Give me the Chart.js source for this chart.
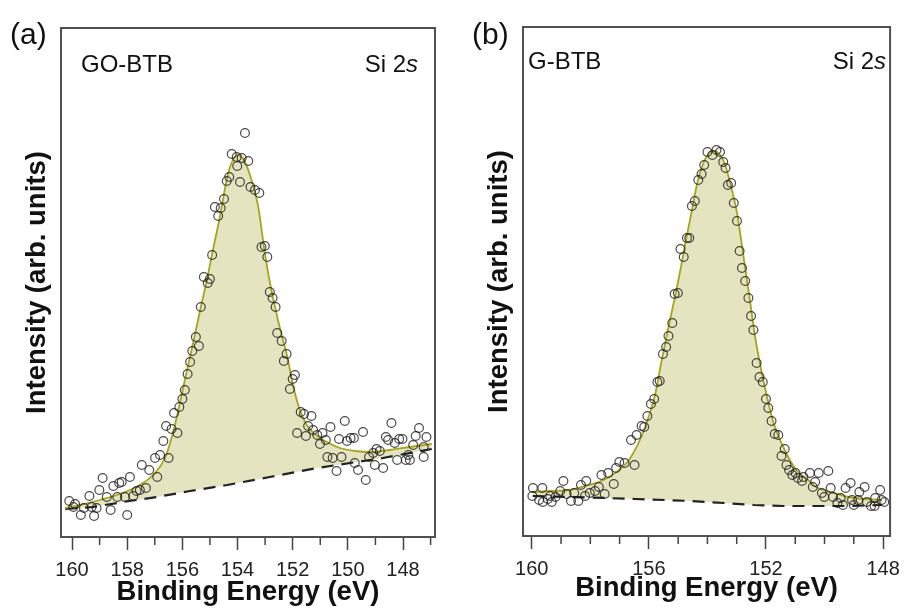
<!DOCTYPE html>
<html>
<head>
<meta charset="utf-8">
<script src="https://cdn.jsdelivr.net/npm/chart.js@4"></script>
<style>
  body { margin: 0; background: #fff; }
  #wrap { position: relative; width: 908px; height: 609px; }
  canvas { position: absolute; top: 0; }
</style>
</head>
<body>
<div id="wrap">
  <canvas id="chartA" width="454" height="609" style="left:0"></canvas>
  <canvas id="chartB" width="454" height="609" style="left:454px"></canvas>
</div>
<script>
// ---------- panel (a) GO-BTB ----------
// measured points: binding energy (eV) / intensity (arb.)
var energyA = [160.10,159.89,159.95,159.68,159.57,159.37,159.29,159.20,159.01,159.11,
  158.89,158.74,158.60,158.50,158.36,158.29,158.20,158.08,158.00,157.90,
  157.78,157.66,157.54,157.47,157.32,157.20,156.99,156.91,156.81,156.69,
  156.50,156.59,156.39,156.18,156.30,156.11,156.00,155.91,155.81,155.72,
  155.64,155.40,155.51,155.33,155.22,155.00,155.08,154.92,154.70,154.82,
  154.61,154.49,154.39,154.30,154.21,154.03,154.01,153.91,153.85,153.73,
  153.61,153.53,153.37,153.21,153.13,153.01,152.92,152.83,152.73,152.62,
  152.56,152.40,152.22,152.32,151.92,152.00,152.10,151.71,151.59,151.32,
  151.44,151.84,151.52,151.26,151.11,150.92,151.01,150.80,150.63,150.11,
  150.32,150.03,149.90,149.78,149.45,150.74,150.55,150.23,150.41,149.75,
  149.63,149.35,149.23,149.08,148.96,148.84,149.02,148.72,148.62,148.54,
  148.42,148.30,148.14,148.02,148.21,147.90,147.75,147.81,147.63,147.54,
  147.42,147.15,147.25,147.25];
var countsA = [36,33,30,22,29,41,30,21,47,29,
  59,40,27,51,40,54,55,40,22,60,
  41,46,47,72,49,67,79,60,82,96,
  79,111,108,104,124,130,138,147,163,175,
  186,191,200,230,260,258,254,282,321,330,
  329,338,356,360,383,380,371,355,379,404,
  376,350,347,344,290,291,280,245,239,230,
  204,196,183,176,162,158,148,125,123,121,
  111,104,101,107,102,104,93,97,110,116,
  98,96,99,99,105,80,79,80,66,74,
  67,57,80,84,88,86,72,69,100,97,
  114,94,98,98,77,77,77,82,92,101,
  109,100,90,80];
// fitted envelope
var fitEnergyA = [160.25,159.71,158.99,158.26,157.54,156.99,156.63,156.38,156.16,155.91,
  155.65,155.33,155.11,154.93,154.64,154.38,154.20,153.99,153.77,153.55,
  153.26,153.01,152.83,152.64,152.43,152.21,151.99,151.74,151.49,151.20,
  150.83,150.29,149.75,149.20,148.48,147.75,146.96];
var fitA = [29,32,37,43,52,64,79,100,125,157,
  189,230,257,282,320,359,375,382,377,362,
  332,284,255,230,205,182,152,127,112,103,
  96,89,86,85,87,90,93];
// background (dashed)
var baseEnergyA = [160.25,159.24,158.15,156.92,155.72,154.38,152.83,151.12,148.73,146.96];
var baseA = [28,30,35,40,46,52,60,69,79,88];
var majorTicksA = [160,158,156,154,152,150,148];
var minorTicksA = [159,157,155,153,151,149,147];

// ---------- panel (b) G-BTB ----------
var energyB = [159.96,159.64,159.98,159.75,159.62,159.45,159.32,159.37,159.19,159.03,
  158.92,158.81,158.66,158.55,158.41,158.32,158.14,158.18,158.02,157.84,
  157.71,157.51,157.62,157.39,157.20,157.12,157.01,156.83,156.49,156.61,
  156.42,156.16,156.25,156.05,155.93,155.82,155.71,155.63,155.52,155.41,
  155.33,155.20,155.12,155.01,154.92,154.81,154.70,154.62,154.53,154.43,
  154.31,154.20,154.11,154.00,153.83,153.69,153.57,153.46,153.38,153.30,
  153.19,153.10,152.99,152.90,152.82,152.71,152.60,152.51,152.43,152.32,
  152.22,152.11,152.00,151.92,151.81,151.70,151.58,151.47,151.36,151.30,
  151.21,151.10,150.99,150.91,150.77,150.72,150.50,150.32,150.20,149.87,
  150.40,150.09,150.01,149.79,149.71,149.56,149.45,149.37,149.28,149.11,
  149.06,149.00,148.85,148.81,148.63,148.55,148.41,148.29,148.27,148.10,
  148.05,147.96];
var countsB = [48,48,40,36,34,37,34,40,39,45,
  55,42,35,43,35,51,55,40,43,45,
  49,42,61,63,52,68,74,73,71,96,
  101,109,110,120,132,137,154,155,182,189,
  200,213,242,243,287,279,298,298,330,335,
  356,362,371,384,381,386,384,374,368,351,
  353,333,315,285,268,255,238,220,206,173,
  159,154,137,128,115,102,101,80,87,71,
  66,61,63,58,55,59,63,54,63,65,
  49,43,39,48,39,33,38,31,48,53,
  36,31,36,44,49,34,30,30,38,46,
  36,34];
var fitEnergyB = [159.97,159.39,158.72,158.05,157.71,157.30,157.03,156.76,156.53,156.26,
  156.02,155.79,155.58,155.35,155.11,154.91,154.74,154.54,154.34,154.14,
  153.97,153.80,153.63,153.43,153.23,152.99,152.76,152.55,152.38,152.21,
  151.98,151.74,151.41,150.97,150.56,150.29,149.79,149.18,148.61,148.03];
var fitB = [44,45,46,51,54,60,66,73,83,99,
  118,141,173,206,239,268,295,324,354,373,
  382,385,383,374,354,323,278,236,201,173,
  141,113,89,66,56,49,44,39,37,36];
var baseEnergyB = [159.97,158.72,157.47,156.46,155.45,154.57,153.43,152.42,151.41,150.29,149.28,148.03];
var baseB = [40,39,38,37,36,35,33,31,30,30,30,31];
var majorTicksB = [160,156,152,148];
var minorTicksB = [159,158,157,155,154,153,151,150,149];

// zip two arrays into {x, y} points
function pts(xs, ys) {
  return xs.map(function (v, i) { return { x: v, y: ys[i] }; });
}

var FONT = '"Liberation Sans", Arial, sans-serif';

// frame, minor ticks and the text labels inside / above the panel
var decor = {
  id: 'decor',
  afterDraw: function (chart, args, o) {
    var ctx = chart.ctx, a = chart.chartArea, x = chart.scales.x;
    ctx.save();
    ctx.strokeStyle = '#444';
    ctx.lineWidth = 1.5;
    o.minor.forEach(function (v) {
      var px = x.getPixelForValue(v);
      ctx.beginPath();
      ctx.moveTo(px, a.bottom);
      ctx.lineTo(px, a.bottom + 8);
      ctx.stroke();
    });
    ctx.strokeStyle = '#505050';
    ctx.lineWidth = 2;
    ctx.strokeRect(a.left, a.top, a.right - a.left, a.bottom - a.top);

    ctx.fillStyle = '#111';
    ctx.textBaseline = 'alphabetic';
    ctx.textAlign = 'left';
    ctx.font = '30px ' + FONT;
    ctx.fillText(o.panel, o.panelX, o.panelY);
    ctx.font = '24px ' + FONT;
    ctx.fillText(o.sample, o.sampleX, o.textY);
    // "Si 2s" with italic s, right aligned
    ctx.font = 'italic 24px ' + FONT;
    var ws = ctx.measureText('s').width;
    ctx.fillText('s', o.lineRight - ws, o.textY);
    ctx.font = '24px ' + FONT;
    var wm = ctx.measureText('Si 2').width;
    ctx.fillText('Si 2', o.lineRight - ws - wm, o.textY);
    ctx.restore();
  }
};

function makeChart(id, cfg) {
  return new Chart(document.getElementById(id), {
    type: 'line',
    data: {
      datasets: [
        {
          type: 'scatter',
          data: pts(cfg.energy, cfg.counts),
          pointStyle: 'circle',
          pointRadius: 4.4,
          borderWidth: 1.2,
          borderColor: 'rgba(30,30,30,0.8)',
          backgroundColor: 'rgba(0,0,0,0)',
          order: 0
        },
        {
          type: 'line',
          data: pts(cfg.fitEnergy, cfg.fit),
          borderColor: '#a9a41e',
          borderWidth: 1.8,
          pointRadius: 0,
          cubicInterpolationMode: 'monotone',
          backgroundColor: '#e5e4c1',
          fill: { target: 2 },
          order: 1
        },
        {
          type: 'line',
          data: pts(cfg.baseEnergy, cfg.base),
          borderColor: '#222',
          borderWidth: 2.2,
          borderDash: [12, 8],
          pointRadius: 0,
          fill: false,
          order: 2
        }
      ]
    },
    options: {
      responsive: false,
      animation: false,
      layout: { padding: cfg.pad },
      plugins: {
        legend: { display: false },
        tooltip: { enabled: false },
        // fill first so it does not cover the dashed background line
        filler: { drawTime: 'beforeDatasetsDraw' },
        decor: cfg.text
      },
      scales: {
        x: {
          type: 'linear',
          reverse: true,
          min: cfg.xmin,
          max: cfg.xmax,
          afterBuildTicks: function (s) {
            s.ticks = cfg.major.map(function (v) { return { value: v }; });
          },
          afterFit: function (s) { s.height = cfg.xh; },
          grid: { drawOnChartArea: false, tickLength: 13, tickWidth: 1.5, tickColor: '#444' },
          border: { display: false },
          ticks: {
            padding: 8,
            color: '#222',
            font: { family: FONT, size: 20 },
            callback: function (v) { return String(v); }
          },
          title: {
            display: true,
            text: 'Binding Energy (eV)',
            color: '#111',
            padding: { top: 0, bottom: cfg.xtPad },
            font: { family: FONT, size: 27.5, weight: 'bold' }
          }
        },
        y: {
          min: 0,
          max: 509,
          afterFit: function (s) { s.width = cfg.yw; },
          grid: { display: false },
          border: { display: false },
          ticks: { display: false },
          title: {
            display: true,
            text: 'Intensity (arb. units)',
            color: '#111',
            padding: { top: cfg.ytPad, bottom: 0 },
            font: { family: FONT, size: 27.5, weight: 'bold' }
          }
        }
      }
    },
    plugins: [decor]
  });
}

makeChart('chartA', {
  energy: energyA, counts: countsA,
  fitEnergy: fitEnergyA, fit: fitA,
  baseEnergy: baseEnergyA, base: baseA,
  major: majorTicksA,
  xmin: 146.84, xmax: 160.4,
  pad: { left: 0, top: 28, right: 19, bottom: 0 },
  xh: 72, yw: 61, xtPad: 0, ytPad: 21,
  text: { minor: minorTicksA, panel: '(a)', panelX: 10, panelY: 44,
          sample: 'GO-BTB', sampleX: 81, textY: 72, lineRight: 418 }
});

makeChart('chartB', {
  energy: energyB, counts: countsB,
  fitEnergy: fitEnergyB, fit: fitB,
  baseEnergy: baseEnergyB, base: baseB,
  major: majorTicksB,
  xmin: 147.76, xmax: 160.3,
  pad: { left: 0, top: 27, right: 13, bottom: 0 },
  xh: 73, yw: 69, xtPad: 4, ytPad: 29,
  text: { minor: minorTicksB, panel: '(b)', panelX: 18, panelY: 44,
          sample: 'G-BTB', sampleX: 74, textY: 69, lineRight: 432 }
});
</script>
</body>
</html>
